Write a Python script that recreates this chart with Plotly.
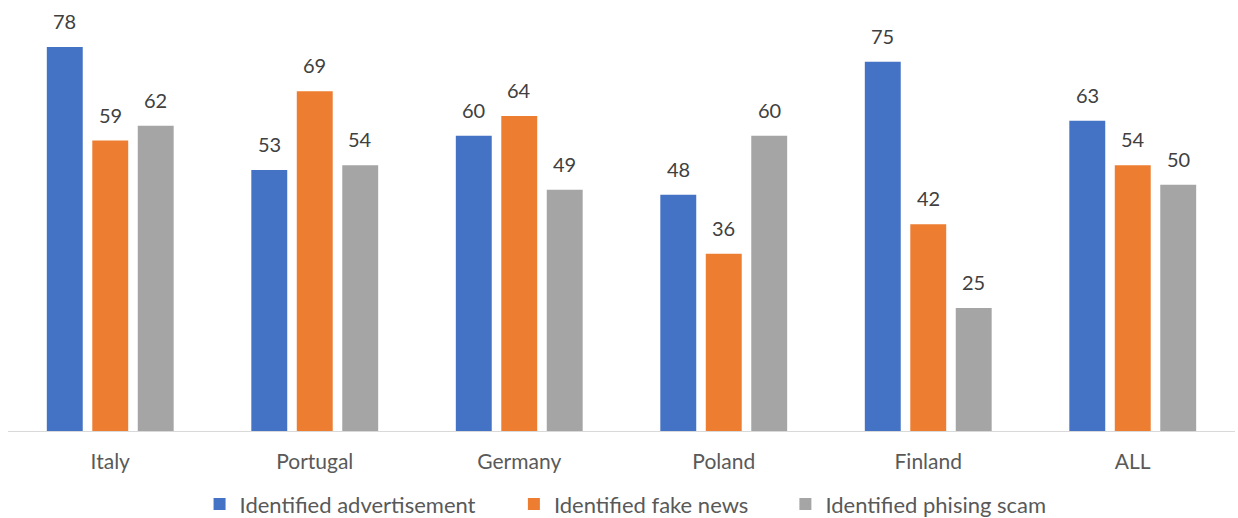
import plotly.graph_objects as go

countries = ["Italy", "Portugal", "Germany", "Poland", "Finland", "ALL"]
advertisement = [78, 53, 60, 48, 75, 63]
fake_news = [59, 69, 64, 36, 42, 54]
phishing = [62, 54, 49, 60, 25, 50]

series = [
    ("Identified advertisement", advertisement, "#4472C4"),
    ("Identified fake news", fake_news, "#ED7D31"),
    ("Identified phising scam", phishing, "#A5A5A5"),
]

FONT = "Lato, Calibri, Carlito, sans-serif"
BARGAP = 0.333
legend_x = [0.1612, 0.4151, 0.6344]  # left edge of each legend entry (container fraction)

fig = go.Figure()
n = len(series)
slot = (1 - BARGAP) / n
for j, (name, vals, color) in enumerate(series):
    lg = "legend" if j == 0 else f"legend{j + 1}"
    fig.add_trace(go.Bar(
        x=countries, y=vals, name=name, legend=lg,
        marker=dict(color=color, line=dict(width=0)),
    ))
    # value labels above each bar
    for i, v in enumerate(vals):
        fig.add_annotation(
            x=i + (j - (n - 1) / 2) * slot, y=v, xref="x", yref="y",
            text=str(v), showarrow=False, yanchor="bottom", yshift=12,
            font=dict(size=20, color="#404040", family=FONT),
        )

legend_common = dict(orientation="h", xref="container", xanchor="left",
                     y=-0.170, yanchor="middle", itemwidth=30,
                     bgcolor="rgba(0,0,0,0)",
                     font=dict(size=22, color="#595959", family=FONT))

fig.update_layout(
    width=1238, height=518,
    margin=dict(l=8, r=3, t=0, b=87, autoexpand=False),
    paper_bgcolor="white", plot_bgcolor="white",
    barmode="group", bargap=BARGAP, bargroupgap=0.21,
    font=dict(family=FONT, color="#595959", size=20),
    showlegend=True,
    legend=dict(x=legend_x[0], **legend_common),
    legend2=dict(x=legend_x[1], **legend_common),
    legend3=dict(x=legend_x[2], **legend_common),
    xaxis=dict(showline=True, linecolor="#D9D9D9", linewidth=1, ticks="",
               tickfont=dict(size=21, color="#595959"), showgrid=False,
               ticklabelstandoff=12),
    yaxis=dict(range=[0, 87.55], visible=False, showgrid=False),
)

fig.write_html("out.html")
